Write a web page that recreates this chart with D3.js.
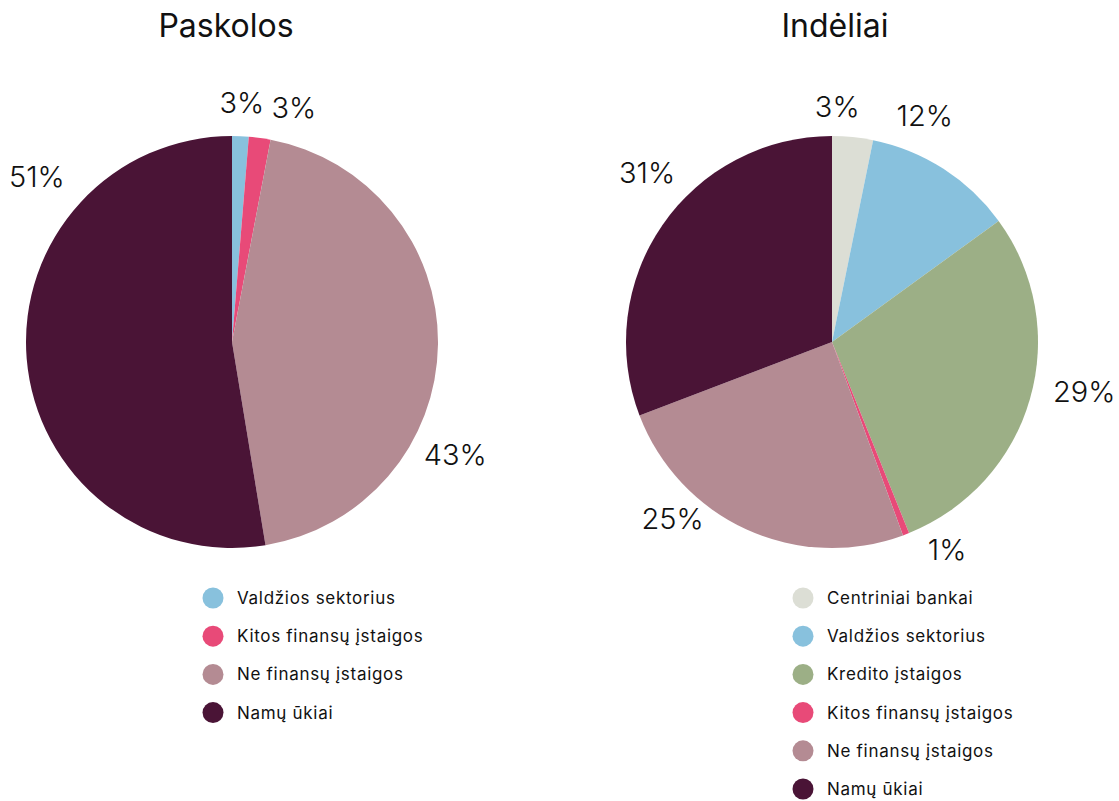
<!DOCTYPE html>
<html>
<head>
<meta charset="utf-8">
<script src="https://cdn.jsdelivr.net/npm/d3@7"></script>
<style>
  body { margin: 0; background: #fff; }
  text { font-family: Inter, "Open Sans", sans-serif; fill: #111; }
</style>
</head>
<body>
<div id="chart"></div>
<script>
// Paskolos (loans)
const loanCategories = ["Valdžios sektorius", "Kitos finansų įstaigos", "Ne finansų įstaigos", "Namų ūkiai"];
const loanValues = [1.3, 1.7, 44.4, 52.6];
const loanLabels = ["3%", "3%", "43%", "51%"];

// Indėliai (deposits)
const depositCategories = ["Centriniai bankai", "Valdžios sektorius", "Kredito įstaigos", "Kitos finansų įstaigos", "Ne finansų įstaigos", "Namų ūkiai"];
const depositValues = [3.2, 11.8, 28.9, 0.5, 24.8, 30.8];
const depositLabels = ["3%", "12%", "29%", "1%", "25%", "31%"];

const palette = {
  "Centriniai bankai": "#dcded5",
  "Valdžios sektorius": "#88c1dd",
  "Kredito įstaigos": "#9caf86",
  "Kitos finansų įstaigos": "#e84a78",
  "Ne finansų įstaigos": "#b48b93",
  "Namų ūkiai": "#4a1436"
};

const width = 1119, height = 801;
const radius = 206;

const svg = d3.select("#chart").append("svg")
  .attr("width", width)
  .attr("height", height);

// label angle nudges (degrees) so the percentages sit like in the original layout
const pies = [
  {title: "Paskolos", cats: loanCategories, vals: loanValues, labels: loanLabels,
   cx: 232, cy: 342, titleX: 226, legendX: 213, nudge: [0, 7, 26, 45], lr: [240, 243, 250, 256]},
  {title: "Indėliai", cats: depositCategories, vals: depositValues, labels: depositLabels,
   cx: 832, cy: 342, titleX: 835, legendX: 803, nudge: [-4.5, -10.5, -5, -8, 17.6, 8], lr: [236, 245, 257, 237, 238, 251]}
];

const pie = d3.pie().sort(null).value(d => d.value);
const arc = d3.arc().innerRadius(0).outerRadius(radius);

pies.forEach(p => {
  const data = p.cats.map((c, i) => ({cat: c, value: p.vals[i], label: p.labels[i], nudge: p.nudge[i], lr: p.lr[i]}));
  const g = svg.append("g").attr("transform", `translate(${p.cx},${p.cy})`);

  g.selectAll("path")
    .data(pie(data))
    .enter()
    .append("path")
      .attr("d", arc)
      .style("fill", d => palette[d.data.cat]);

  const ang = d => (d.startAngle + d.endAngle) / 2 + d.data.nudge * Math.PI / 180;

  g.selectAll("text.pct")
    .data(pie(data))
    .enter()
    .append("text")
      .attr("class", "pct")
      .attr("x", d => d.data.lr * Math.sin(ang(d)))
      .attr("y", d => -d.data.lr * Math.cos(ang(d)))
      .attr("text-anchor", "middle")
      .attr("dominant-baseline", "central")
      .style("font-size", "29px")
      .style("font-weight", 300)
      .text(d => d.data.label);

  svg.append("text")
    .attr("x", p.titleX)
    .attr("y", 37)
    .attr("text-anchor", "middle")
    .style("font-size", "32px")
    .style("font-weight", 400)
    .text(p.title);

  // legend
  const legend = svg.append("g").attr("transform", `translate(${p.legendX},598)`);
  const row = legend.selectAll("g")
    .data(p.cats)
    .enter()
    .append("g")
      .attr("transform", (d, i) => `translate(0,${i * 38.2})`);
  row.append("circle")
    .attr("r", 10.5)
    .style("fill", d => palette[d]);
  row.append("text")
    .attr("x", 24)
    .attr("dominant-baseline", "central")
    .style("font-size", "17px")
    .style("letter-spacing", "0.7px")
    .text(d => d);
});
</script>
</body>
</html>
